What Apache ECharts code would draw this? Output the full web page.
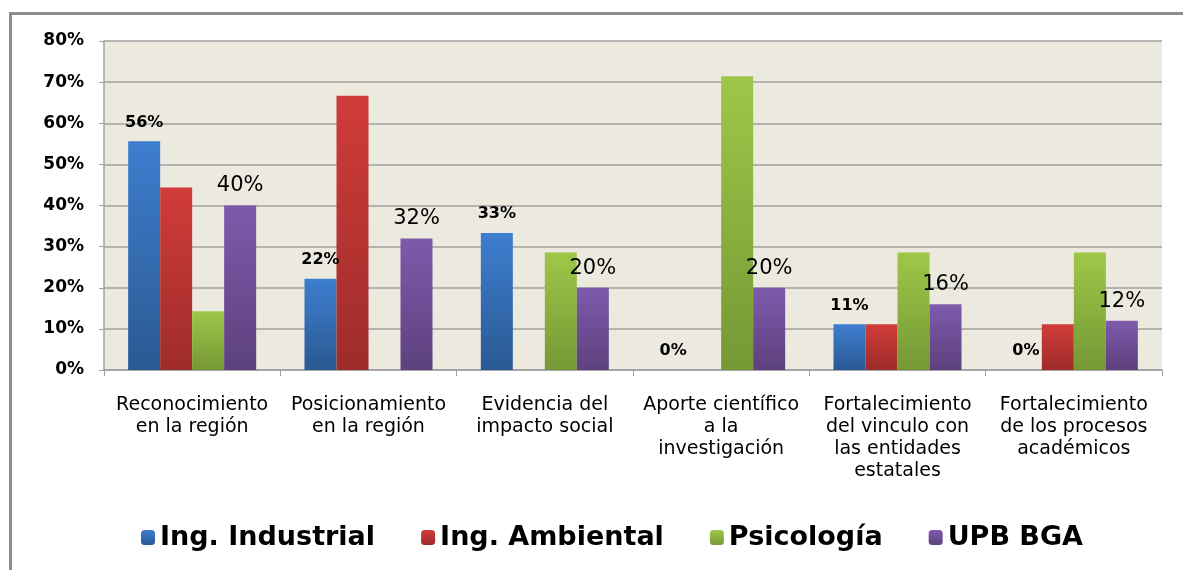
<!DOCTYPE html>
<html>
<head>
<meta charset="utf-8">
<script src="https://cdn.jsdelivr.net/npm/echarts@6/dist/echarts.min.js"></script>
<style>
  html, body { margin: 0; padding: 0; background: #fff; overflow: hidden; }
  #chart { position: absolute; left: 0; top: 0; width: 1183px; height: 570px; }
  /* marco del grafico: solo borde superior e izquierdo visibles */
  .frame { position: absolute; background: #8c8c8c; pointer-events: none; }
  #frame-top { left: 9px; top: 12px; width: 1174px; height: 3px; }
  #frame-left { left: 9px; top: 12px; width: 3px; height: 558px; }
</style>
</head>
<body>
<div id="chart"></div>
<div id="frame-top" class="frame"></div>
<div id="frame-left" class="frame"></div>
<script>
// categorias y valores (porcentaje)
const categories = [
  'Reconocimiento\nen la región',
  'Posicionamiento\nen la región',
  'Evidencia del\nimpacto social',
  'Aporte científico\na la\ninvestigación',
  'Fortalecimiento\ndel vinculo con\nlas entidades\nestatales',
  'Fortalecimiento\nde los procesos\nacadémicos'
]
const seriesNames = ['Ing. Industrial', 'Ing. Ambiental', 'Psicología', 'UPB BGA']
const industrial = [55.6, 22.2, 33.3, 0, 11.1, 0]
const ambiental = [44.4, 66.7, 0, 0, 11.1, 11.1]
const psicologia = [14.3, 0, 28.6, 71.4, 28.6, 28.6]
const upb = [40, 32, 20, 20, 16, 12]
const yTicks = [0, 80, 10] // min, max, intervalo

function grad(top, bottom) {
  return new echarts.graphic.LinearGradient(0, 0, 0, 1, [
    {offset: 0, color: top},
    {offset: 1, color: bottom}
  ])
}

const fontFamily = 'DejaVu Sans'
const pctLabel = function (p) {
  return Math.round(p.value) + '%'
}

let myChart = echarts.init(document.getElementById('chart'), null, {renderer: 'canvas'})

let option = {
  animation: false,
  grid: {
    left: 104,
    right: 21,
    top: 41,
    bottom: 200,
    show: true,
    backgroundColor: '#ece9df',
    borderWidth: 0
  },
  legend: {
    left: 136,
    top: 519,
    itemWidth: 14,
    itemHeight: 15,
    itemGap: 46,
    textStyle: {fontFamily: fontFamily, fontWeight: 'bold', fontSize: 27, color: '#000'},
    data: seriesNames
  },
  xAxis: {
    type: 'category',
    data: categories,
    axisLine: {lineStyle: {color: '#a0a0a0', width: 1.5}},
    axisTick: {show: true, length: 6, alignWithLabel: false, lineStyle: {color: '#a0a0a0'}},
    axisLabel: {
      interval: 0,
      margin: 24,
      color: '#000',
      fontFamily: fontFamily,
      fontSize: 19,
      lineHeight: 22
    }
  },
  yAxis: {
    type: 'value',
    min: yTicks[0],
    max: yTicks[1],
    interval: yTicks[2],
    axisLine: {show: true, lineStyle: {color: '#a0a0a0', width: 1.5}},
    axisTick: {show: true, length: 5, lineStyle: {color: '#a0a0a0'}},
    splitLine: {lineStyle: {color: '#a0a0a0', width: 1.5}},
    axisLabel: {
      formatter: '{value}%',
      margin: 20,
      color: '#000',
      fontFamily: fontFamily,
      fontWeight: 'bold',
      fontSize: 17
    }
  },
  series: [
    {
      name: seriesNames[0],
      type: 'bar',
      data: industrial,
      barGap: '0%',
      barCategoryGap: '27.4%',
      itemStyle: {color: grad('#3e7ecf', '#2a5993')},
      label: {
        show: true,
        position: 'top',
        distance: 11,
        formatter: pctLabel,
        color: '#000',
        fontFamily: fontFamily,
        fontWeight: 'bold',
        fontSize: 16
      }
    },
    {
      name: seriesNames[1],
      type: 'bar',
      data: ambiental,
      itemStyle: {color: grad('#d03c3a', '#9e2c2a')}
    },
    {
      name: seriesNames[2],
      type: 'bar',
      data: psicologia,
      itemStyle: {color: grad('#9ec748', '#759835')}
    },
    {
      name: seriesNames[3],
      type: 'bar',
      data: upb,
      itemStyle: {color: grad('#7e5aab', '#5d417e')},
      label: {
        show: true,
        position: 'top',
        distance: 9,
        formatter: pctLabel,
        color: '#000',
        fontFamily: fontFamily,
        fontSize: 21
      }
    }
  ]
}

myChart.setOption(option)
</script>
</body>
</html>
